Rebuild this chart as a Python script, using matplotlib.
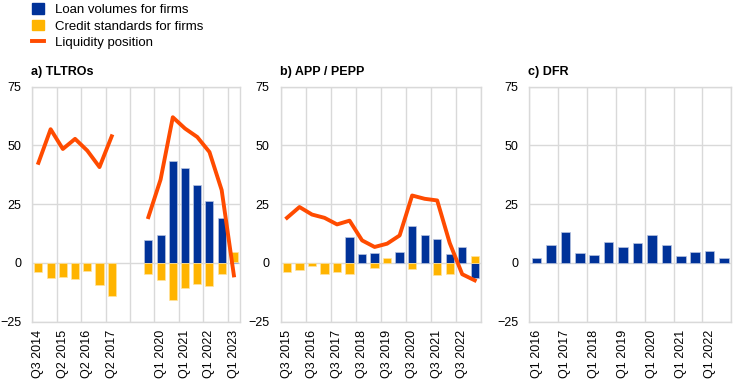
import matplotlib
matplotlib.use("Agg")
import matplotlib.pyplot as plt
from matplotlib.patches import Patch
from matplotlib.lines import Line2D
import numpy as np

plt.rcParams['font.family'] = ['Liberation Sans', 'DejaVu Sans']
plt.rcParams['font.size'] = 9

# цвета
BLUE = '#003299'
YELLOW = '#ffb400'
ORANGE = '#ff4b00'
GRID = '#d9d9d9'

nan = np.nan

# a) TLTROs
a_labels = ["Q3 2014", "", "Q2 2015", "", "Q2 2016", "", "Q2 2017", "", "",
            "", "Q1 2020", "", "Q1 2021", "", "Q1 2022", "", "Q1 2023"]
a_loans = [nan, nan, nan, nan, nan, nan, nan, nan, nan,
           9.6, 12.1, 43.4, 40.6, 33.0, 26.4, 19.0, 0.5]
a_credit = [-4.0, -6.5, -6.0, -7.0, -3.5, -9.4, -14.2, nan, nan,
            -4.7, -7.2, -15.6, -10.8, -9.1, -9.8, -4.5, 4.3]
a_liquidity = [42.6, 56.9, 48.5, 52.8, 47.8, 40.8, 53.9, nan, nan,
               19.5, 35.5, 62.0, 57.2, 53.6, 47.2, 31.0, -5.3]

# b) APP / PEPP
b_labels = ["Q3 2015", "Q1 2016", "Q3 2016", "Q1 2017", "Q3 2017", "Q1 2018",
            "Q3 2018", "Q1 2019", "Q3 2019", "Q1 2020", "Q3 2020", "Q1 2021",
            "Q3 2021", "Q1 2022", "Q3 2022", "Q1 2023"]
b_loans = [nan, nan, nan, nan, nan, 10.9, 4.0, 4.4, nan, 4.5,
           15.7, 12.0, 10.0, 4.0, 6.6, -6.4]
b_credit = [-4.0, -2.8, -1.1, -4.5, -4.0, -4.5, nan, -2.1, 2.0, nan,
            -2.7, nan, -5.0, -4.5, nan, 2.8]
b_liquidity = [19.2, 23.8, 20.6, 19.2, 16.4, 18.0, 9.6, 6.8, 8.2, 11.7,
               28.7, 27.3, 26.6, 8.5, -4.8, -7.4]

# c) DFR
c_labels = ["Q1 2016", "Q3 2016", "Q1 2017", "Q3 2017", "Q1 2018", "Q3 2018",
            "Q1 2019", "Q3 2019", "Q1 2020", "Q3 2020", "Q1 2021", "Q3 2021",
            "Q1 2022", "Q3 2022"]
c_loans = [2.0, 7.5, 13.0, 4.1, 3.4, 8.9, 6.6, 8.6, 12.0, 7.5, 3.0, 4.8, 5.2, 2.3]

W, H = 744, 381
fig = plt.figure(figsize=(W / 100, H / 100), dpi=100)


def px_axes(left, right, top, bottom):
    return fig.add_axes([left / W, 1 - bottom / H, (right - left) / W, (bottom - top) / H])


def draw_panel(ax, labels, loans, credit=None, liquidity=None, title=''):
    n = len(labels)
    x = np.arange(n)
    loans = np.array(loans, dtype=float)
    ax.bar(x, loans, width=0.66, color=BLUE, edgecolor='#b8c4e0', linewidth=0.5, zorder=3)
    if credit is not None:
        credit = np.array(credit, dtype=float)
        l0 = np.nan_to_num(loans)
        # стек: жёлтый поверх синего, если знаки совпадают
        bottom = np.where(np.sign(l0) == np.sign(np.nan_to_num(credit)), l0, 0.0)
        ax.bar(x, credit, bottom=bottom, width=0.66, color=YELLOW,
               edgecolor='#ffe4a0', linewidth=0.5, zorder=3)
    if liquidity is not None:
        ax.plot(x, liquidity, color=ORANGE, linewidth=2.8, zorder=4)

    ax.set_xlim(-0.5, n - 0.5)
    ax.set_ylim(-25, 75)
    ax.set_yticks([-25, 0, 25, 50, 75])
    ax.set_xticks(x[::2])
    ax.set_xticklabels(labels[::2], rotation=90, va='top', ha='center')
    ax.set_xticks(np.arange(-0.5, n, 2), minor=True)
    ax.tick_params(axis='both', which='both', length=0)
    ax.tick_params(axis='y', pad=8)
    ax.tick_params(axis='x', pad=6)
    ax.grid(True, axis='y', color=GRID, linewidth=1.0, zorder=0)
    ax.grid(True, axis='x', which='minor', color=GRID, linewidth=1.0, zorder=0)
    ax.grid(False, axis='x', which='major')
    for s in ax.spines.values():
        s.set_color(GRID)
        s.set_linewidth(1.0)
    ax.set_axisbelow(True)
    fig.text(ax.get_position().x0 - 1 / W, 1 - 72 / H, title, fontweight='bold',
             ha='left', va='center')


ax_a = px_axes(32.3, 240, 86.7, 321.7)
draw_panel(ax_a, a_labels, a_loans, a_credit, a_liquidity, title='a) TLTROs')

ax_b = px_axes(280.7, 481, 86.7, 321.7)
draw_panel(ax_b, b_labels, b_loans, b_credit, b_liquidity, title='b) APP / PEPP')

ax_c = px_axes(529.3, 731.3, 86.7, 321.7)
draw_panel(ax_c, c_labels, c_loans, title='c) DFR')

handles = [Patch(facecolor=BLUE, edgecolor=BLUE),
           Patch(facecolor=YELLOW, edgecolor=YELLOW),
           Line2D([0], [0], color=ORANGE, linewidth=2.8)]
fig.legend(handles, ['Loan volumes for firms', 'Credit standards for firms', 'Liquidity position'],
           loc='upper left', bbox_to_anchor=(30.5 / W, 1 - 1.5 / H), frameon=False,
           handlelength=0.9, handleheight=0.9, handletextpad=0.85, labelspacing=0.28,
           borderaxespad=0, borderpad=0.1, fontsize=9.5)

fig.savefig('out.png', dpi=100)
